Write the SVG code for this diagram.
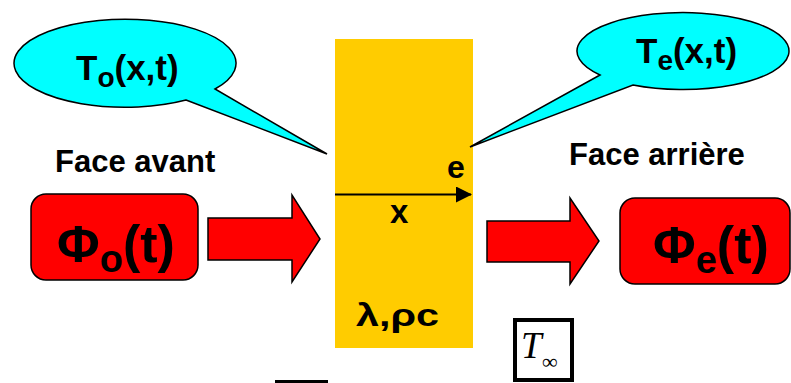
<svg xmlns="http://www.w3.org/2000/svg" width="791" height="383" viewBox="0 0 791 383">
<defs>
<style>
.t{font-family:"Liberation Sans",Arial,sans-serif;font-weight:bold;fill:#000}
.bubble{fill:#00FFFF;stroke:#000;stroke-width:1.5;stroke-linejoin:miter}
.flux{fill:#FF0000;stroke:#000;stroke-width:1.5}
.barrow{fill:#FF0000;stroke:#000;stroke-width:1.5;stroke-linejoin:miter}
</style>
<marker id="ah" viewBox="0 0 16 16" refX="15" refY="8" markerWidth="16" markerHeight="16" markerUnits="userSpaceOnUse" orient="auto">
<path d="M0,0 L16,8 L0,16 Z" fill="#000"/>
</marker>
</defs>
<rect width="791" height="383" fill="#fff"/>
<g id="wall">
<rect x="335" y="39" width="138" height="309" fill="#FFCC00"/>
<text class="t" x="447" y="178" font-size="32">e</text>
<text class="t" x="390" y="223" font-size="33">x</text>
<text class="t" x="356" y="326" font-size="32" textLength="83" lengthAdjust="spacingAndGlyphs">λ,ρc</text>
</g>
<g id="bubble-left">
<path class="bubble" d="M186,100 L327,154 L215,89 A111,44 0 1 0 186,100 Z"/>
<text class="t" x="76" y="80" font-size="35">T<tspan font-size="28" dy="7">o</tspan><tspan dy="-7">(x,t)</tspan></text>
</g>
<g id="bubble-right">
<path class="bubble" d="M600,75 L470,147 L633,85 A106,38.5 0 1 0 600,75 Z"/>
<text class="t" x="636" y="63" font-size="35">T<tspan font-size="28" dy="7">e</tspan><tspan dy="-7">(x,t)</tspan></text>
</g>
<g id="label-front">
<text class="t" x="55" y="172" font-size="31">Face avant</text>
</g>
<g id="label-back">
<text class="t" x="569" y="165" font-size="31">Face arrière</text>
</g>
<g id="flux-front">
<rect class="flux" x="31" y="194" width="167" height="86" rx="15"/>
<text class="t" x="57" y="262" font-size="52">Φ<tspan font-size="38" dy="10">o</tspan><tspan dy="-10">(t)</tspan></text>
</g>
<g id="flux-back">
<rect class="flux" x="620" y="198" width="170" height="86" rx="15"/>
<text class="t" x="653" y="263" font-size="52">Φ<tspan font-size="38" dy="10">e</tspan><tspan dy="-10">(t)</tspan></text>
</g>
<g id="t-inf">
<rect x="515" y="320" width="57" height="60" fill="#fff" stroke="#000" stroke-width="4"/>
<text x="521" y="358" font-family="'Liberation Serif','Times New Roman',serif" font-style="italic" font-size="37">T</text>
<text x="542" y="369" font-family="'Liberation Serif','Times New Roman',serif" font-size="22">∞</text>
</g>
<g id="connectors">
<polygon class="barrow" points="208,218 292,218 292,195 320,239 292,282 292,260 208,260"/>
<polygon class="barrow" points="487,221 570,221 570,198 599,241 570,284 570,262 487,262"/>
<line x1="335" y1="194.5" x2="471" y2="194.5" stroke="#000" stroke-width="2" marker-end="url(#ah)"/>
</g>
<rect x="275" y="380" width="53" height="3" fill="#000"/>
</svg>
